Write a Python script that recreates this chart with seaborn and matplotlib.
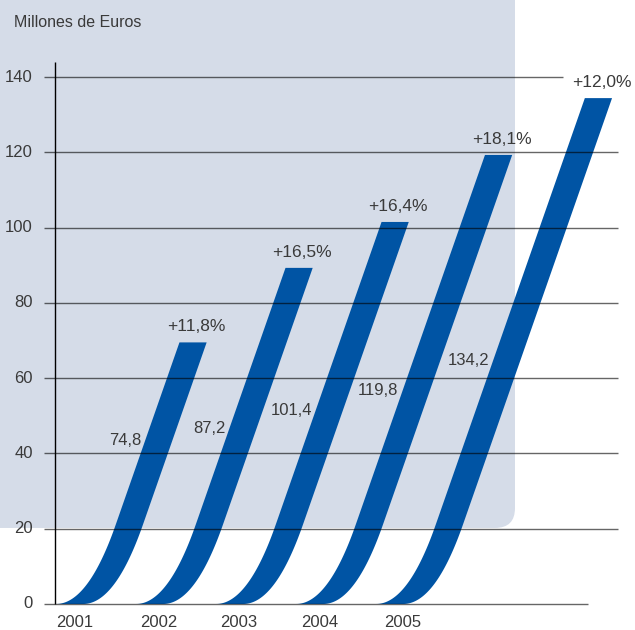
#!/usr/bin/env python3

from matplotlib import pyplot as plt
from matplotlib.patches import FancyBboxPatch
import numpy as np
import seaborn as sns


years = ["2001", "2002", "2003", "2004", "2005"]
values = [74.8, 87.2, 101.4, 119.8, 134.2]
# heights of the bar tops as drawn in the picture
bar_tops = [69.5, 89.3, 101.5, 119.3, 134.4]
growth = ["+11,8%", "+16,5%", "+16,4%", "+18,1%", "+12,0%"]
y_ticks = [0, 20, 40, 60, 80, 100, 120, 140]

# layout: heights where the value labels sit, year label offsets
label_y = [43.5, 46.5, 51.5, 56.6, 64.8]
year_x = [0.245, 1.3, 2.3, 3.31, 4.35]


def edge(start, top, c=0.4, k=60.8, yb=21.0):
    """Left boundary of one swoosh: bezier foot, then a straight rise."""
    t = np.linspace(0, 1, 50)
    p0 = np.array([start, 0.0])
    p1 = np.array([start + c, 0.0])
    p2 = np.array([start + c + yb / k, yb])
    pts = ((1 - t) ** 2)[:, None] * p0 + (2 * t * (1 - t))[:, None] * p1 \
        + (t ** 2)[:, None] * p2
    xs = np.append(pts[:, 0], start + c + top / k)
    ys = np.append(pts[:, 1], top)
    return xs, ys


def main():
    sns.set_theme(style="white")
    plt.rcParams["font.family"] = ["Liberation Sans", "DejaVu Sans"]
    text_color = "#3a3a3a"
    blue = "#0054a4"
    bg = "#d5dce8"
    w = 0.34
    k = 60.8

    fig = plt.figure(figsize=(6.35, 6.3), dpi=100)
    ax = fig.add_axes([0, 0, 1, 1])
    ax.set_xlim(-55 / 80, 580 / 80)
    ax.set_ylim(-26 / 3.764, 604 / 3.764)
    ax.set_axis_off()

    # background panel with rounded bottom-right corner
    panel = FancyBboxPatch(
            (-1.5, 20.2), 7.25, 200,
            boxstyle="round,pad=0,rounding_size=0.25",
            mutation_aspect=80 / 3.764,
            facecolor=bg, edgecolor="none", zorder=0,
            )
    ax.add_patch(panel)

    for i, (top, val, pct) in enumerate(zip(bar_tops, values, growth)):
        s = i + 0.0125
        xl, yl = edge(s, top)
        xs = np.concatenate([xl, (xl + w)[::-1]])
        ys = np.concatenate([yl, yl[::-1]])
        ax.fill(xs, ys, color=blue, lw=0, zorder=2)

        x_top = s + 0.4 + top / k
        ax.text(x_top + w / 2 + 0.04, top + 2.9, pct, ha="center",
                va="baseline", fontsize=12.5, color=text_color, zorder=4)

        ly = label_y[i]
        ax.text(s + 0.4 + ly / k - 0.05, ly, f"{val:.1f}".replace(".", ","),
                ha="right", va="center", fontsize=12, color=text_color,
                zorder=4)

        ax.text(year_x[i], -4.8, years[i], ha="center", va="center",
                fontsize=12, color=text_color)

    ends = [6.66] + [7.04] * 6 + [6.35]
    ax.hlines(y_ticks, -0.1375, ends, colors="black", alpha=0.6, lw=1.0,
              zorder=3)
    ax.vlines(0, 0, 144, colors="black", lw=1.0, zorder=3)

    for t in y_ticks:
        ax.text(-0.275, t, str(t), ha="right", va="center", fontsize=12,
                color=text_color)

    ax.text(-0.5125, 154.6, "Millones de Euros", ha="left", va="center",
            fontsize=11.5, color=text_color)

    plt.savefig("out.png", dpi=100)


if __name__ == "__main__":
    main()
